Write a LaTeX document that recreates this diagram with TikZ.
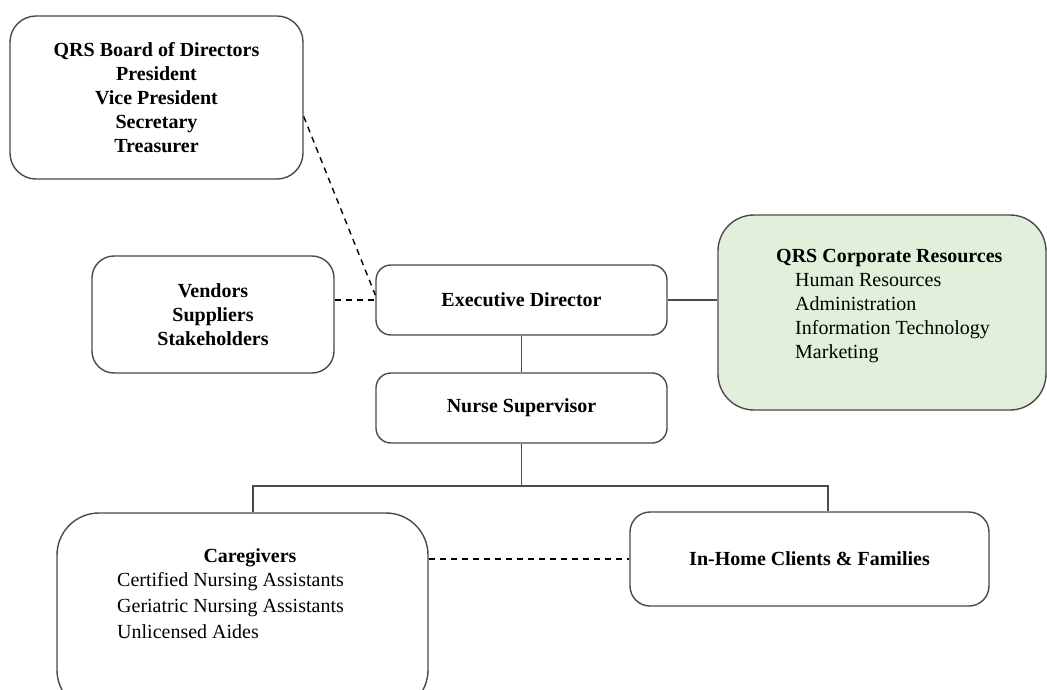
\documentclass[tikz,border=0pt]{standalone}
\usepackage{fontspec}
\setmainfont{Liberation Serif}
\usetikzlibrary{calc}
\definecolor{boxline}{HTML}{4A4A4A}
\definecolor{corpfill}{HTML}{E2EFDA}
\tikzset{
  orgbox/.style={draw=boxline, line width=1.4pt, fill=white, align=center, inner sep=0pt,
    font=\fontsize{20}{24}\selectfont\bfseries},
  txt/.style={inner sep=0pt, font=\fontsize{20}{24}\selectfont},
  solidlink/.style={draw=boxline, line width=1.4pt},
  dashlink/.style={draw=black, line width=1.4pt, dash pattern=on 6pt off 5pt},
}
\begin{document}
\begin{tikzpicture}[x=1pt,y=-1pt]
\useasboundingbox (0,0) rectangle (1047,690);
\clip (0,0) rectangle (1047,690);

% boxes
\node[orgbox, rounded corners=26pt, minimum width=293pt, minimum height=163pt] (board) at (156.5,97.5)
  {\raisebox{-3pt}{\parbox{290pt}{\centering QRS Board of Directors\\President\\Vice President\\Secretary\\Treasurer}}};
\node[orgbox, rounded corners=22pt, minimum width=242pt, minimum height=117pt] (vend) at (213,314.5)
  {\raisebox{-3pt}{\parbox{240pt}{\centering Vendors\\Suppliers\\Stakeholders}}};
\node[orgbox, rounded corners=15pt, minimum width=291pt, minimum height=70pt] (exec) at (521.5,300) {Executive Director};
\node[orgbox, rounded corners=15pt, minimum width=291pt, minimum height=70pt] (nurse) at (521.5,408) {Nurse Supervisor};
\node[orgbox, fill=corpfill, rounded corners=36pt, minimum width=328pt, minimum height=195pt] (corp) at (882,312.5) {};
\node[orgbox, rounded corners=42pt, minimum width=371pt, minimum height=199pt] (care) at (242.5,612.5) {};
\node[orgbox, rounded corners=20pt, minimum width=359pt, minimum height=94pt] (home) at (809.5,559) {In-Home Clients \& Families};

% texts inside the boxes that are not centred
\node[txt, anchor=north west, align=left] (corptext) at (776,249)
  {\textbf{QRS Corporate Resources}\\
   \hspace*{19pt}Human Resources\\
   \hspace*{19pt}Administration\\
   \hspace*{19pt}Information Technology\\
   \hspace*{19pt}Marketing};
\node[txt, font=\fontsize{20}{24}\selectfont\bfseries] (caretitle) at (250,558) {Caregivers};
\node[txt, anchor=north west, align=left, font=\fontsize{20}{26}\selectfont] (careitems) at (117,572)
  {Certified Nursing Assistants\\Geriatric Nursing Assistants\\Unlicensed Aides};

% connectors
\coordinate (busL) at (253,486);
\coordinate (busR) at (828,486);
\draw[dashlink] ([yshift=-19pt]board.east) -- ([yshift=5pt]exec.west);
\draw[dashlink] (vend.east |- exec.west) -- (exec.west);
\draw[solidlink] (exec.east) -- (corp.west |- exec.east);
\draw[solidlink] (exec.south) -- (nurse.north);
\draw[solidlink] (nurse.south) -- (nurse.south |- busL);
\draw[solidlink] (care.north -| busL) -- (busL) -- (busR) -- (home.north -| busR);
\draw[dashlink] (care.east |- home.west) -- (home.west);
\end{tikzpicture}
\end{document}
